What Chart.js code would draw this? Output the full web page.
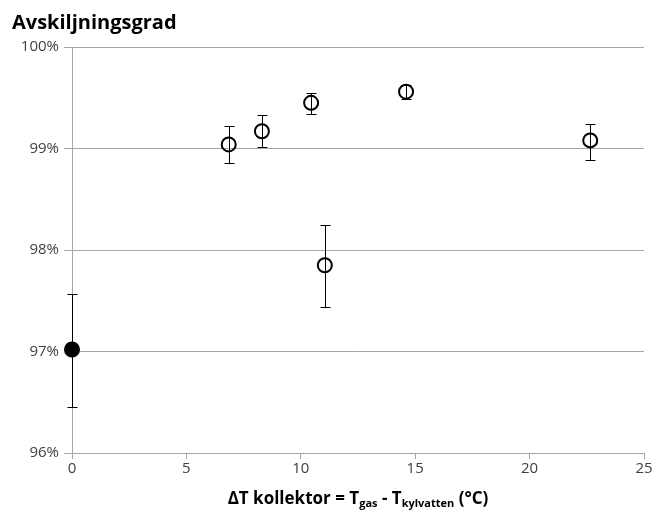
<!DOCTYPE html>
<html lang="sv">
<head>
  <meta charset="UTF-8">
  <title>Avskiljningsgrad</title>
  <script src="https://cdn.jsdelivr.net/npm/chart.js"></script>
  <style>
    body {
      margin: 0;
      background: #fff;
      font-family: "Open Sans", "Noto Sans", sans-serif;
    }
    #wrap {
      position: relative;
      width: 656px;
      height: 522px;
    }
    canvas {
      position: absolute;
      left: 0;
      top: 0;
    }
    .title {
      position: absolute;
      left: 12px;
      top: 8px;
      font-size: 20px;
      font-weight: bold;
      color: #000;
    }
    .xtitle {
      position: absolute;
      left: 72px;
      width: 572px;
      top: 486px;
      text-align: center;
      font-size: 17px;
      font-weight: bold;
      color: #000;
    }
    .xtitle sub {
      font-size: 11px;
      vertical-align: -3px;
      line-height: 0;
    }
  </style>
</head>
<body>
  <div id="wrap">
    <canvas id="chart" width="656" height="522"></canvas>
    <div class="title">Avskiljningsgrad</div>
    <div class="xtitle">ΔT kollektor = T<sub>gas</sub> - T<sub>kylvatten</sub> (°C)</div>
  </div>

  <script>
    // Temperature difference over the collector (°C)
    const deltaT = [0, 6.85, 8.3, 10.45, 11.05, 14.6, 22.65];
    // Separation efficiency (%) with error bar limits
    const grad = [97.02, 99.04, 99.17, 99.45, 97.85, 99.56, 99.08];
    const gradLow = [96.45, 98.86, 99.01, 99.34, 97.44, 99.49, 98.89];
    const gradHigh = [97.57, 99.22, 99.33, 99.55, 98.25, 99.63, 99.24];
    // Reference run without cooling is drawn as a filled marker
    const refIndex = 0;

    const xTicks = [0, 5, 10, 15, 20, 25];
    const yTicks = [96, 97, 98, 99, 100];

    // Vertical error bars with caps, drawn under the markers
    const errorBars = {
      id: 'errorBars',
      beforeDatasetsDraw(chart) {
        const ctx = chart.ctx;
        const xs = chart.scales.x;
        const ys = chart.scales.y;
        ctx.save();
        ctx.strokeStyle = '#000';
        ctx.lineWidth = 1;
        deltaT.forEach((t, i) => {
          const px = Math.round(xs.getPixelForValue(t)) + 0.5;
          const top = Math.round(ys.getPixelForValue(gradHigh[i])) + 0.5;
          const bot = Math.round(ys.getPixelForValue(gradLow[i])) + 0.5;
          ctx.beginPath();
          ctx.moveTo(px, top);
          ctx.lineTo(px, bot);
          ctx.moveTo(px - 5, top);
          ctx.lineTo(px + 5, top);
          ctx.moveTo(px - 5, bot);
          ctx.lineTo(px + 5, bot);
          ctx.stroke();
        });
        ctx.restore();
      }
    };

    const tickFont = { family: '"Open Sans", "Noto Sans", sans-serif', size: 15 };

    new Chart(document.getElementById('chart'), {
      type: 'scatter',
      data: {
        datasets: [{
          data: deltaT.map((t, i) => ({ x: t, y: grad[i] })),
          pointRadius: 7,
          pointHoverRadius: 7,
          pointBorderWidth: 2,
          borderColor: '#000',
          pointBackgroundColor: deltaT.map((t, i) => i === refIndex ? '#000' : 'rgba(0,0,0,0)'),
          clip: false
        }]
      },
      options: {
        responsive: false,
        animation: false,
        layout: { padding: { top: 47, right: 12, left: 0, bottom: 0 } },
        plugins: {
          legend: { display: false },
          tooltip: { enabled: false }
        },
        scales: {
          x: {
            type: 'linear',
            min: 0,
            max: 25,
            afterBuildTicks(scale) {
              scale.ticks = xTicks.map(v => ({ value: v }));
            },
            afterFit(scale) { scale.height = 69; },
            grid: {
              drawOnChartArea: false,
              drawTicks: true,
              tickLength: 6,
              color: '#a6a6a6'
            },
            border: { color: '#a6a6a6' },
            ticks: {
              color: '#404040',
              font: tickFont,
              padding: 1
            }
          },
          y: {
            min: 96,
            max: 100,
            afterBuildTicks(scale) {
              scale.ticks = yTicks.map(v => ({ value: v }));
            },
            afterFit(scale) { scale.width = 72; },
            grid: {
              color: '#a6a6a6',
              tickLength: 8
            },
            border: { color: '#a6a6a6' },
            ticks: {
              color: '#404040',
              font: tickFont,
              padding: 5,
              callback: v => v + '%'
            }
          }
        }
      },
      plugins: [errorBars]
    });
  </script>
</body>
</html>
